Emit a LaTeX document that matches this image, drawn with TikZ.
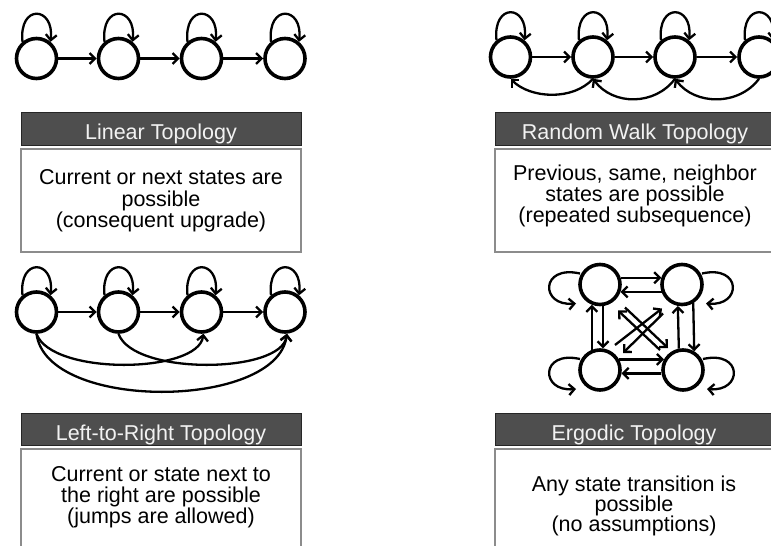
\documentclass[tikz,border=0pt]{standalone}
\usepackage{fontspec}
\setmainfont{Liberation Sans}
\usetikzlibrary{arrows.meta,calc}
\definecolor{barfill}{RGB}{78,78,78}
\definecolor{bartext}{RGB}{242,242,242}
\definecolor{bodyline}{RGB}{140,140,140}
\tikzset{
  st/.style={circle,draw=black,line width=3.6pt,minimum size=40pt,inner sep=0pt,fill=white},
  arr/.style={line width=2.3pt,-{Straight Barb[length=5.5pt,width=11pt,line width=2.3pt]}},
  bar/.style={draw=black!85,line width=0.8pt,fill=barfill},
  bodybox/.style={draw=bodyline,line width=1.8pt,fill=white},
  ttl/.style={anchor=base,inner sep=0pt,text=bartext,font=\fontsize{21.5}{24}\selectfont},
  txt/.style={anchor=base,inner sep=0pt,text=black,font=\fontsize{21.5}{24}\selectfont},
}
\begin{document}
\begin{tikzpicture}[x=1pt,y=1pt]
\useasboundingbox (0,0) rectangle (771,-546);
\clip (0,0) rectangle (771,-546);

% ---------- boxes ----------
\draw[bar] (21,-112) rectangle (301,-145);
\draw[bodybox] (21,-149) rectangle (301,-252);
\draw[bar] (495,-112) rectangle (775,-145);
\draw[bodybox] (495,-149) rectangle (775,-252);
\draw[bar] (21,-413) rectangle (301,-445);
\draw[bodybox] (21,-449) rectangle (301,-560);
\draw[bar] (495,-413) rectangle (775,-445);
\draw[bodybox] (495,-449) rectangle (775,-560);

\node[ttl] (t1) at (161,-139) {Linear Topology};
\node[txt] (t1a) at (161,-184.5) {Current or next states are};
\node[txt] (t1b) at (161,-206) {possible};
\node[txt] (t1c) at (161,-227.5) {(consequent upgrade)};

\node[ttl] (t2) at (635,-139) {Random Walk Topology};
\node[txt] (t2a) at (635,-180) {Previous, same, neighbor};
\node[txt] (t2b) at (635,-201) {states are possible};
\node[txt] (t2c) at (635,-222) {(repeated subsequence)};

\node[ttl] (t3) at (161,-440) {Left-to-Right Topology};
\node[txt] (t3a) at (161,-481) {Current or state next to};
\node[txt] (t3b) at (161,-502) {the right are possible};
\node[txt] (t3c) at (161,-523.5) {(jumps are allowed)};

\node[ttl] (t4) at (634,-440) {Ergodic Topology};
\node[txt] (t4a) at (634,-491) {Any state transition is};
\node[txt] (t4b) at (634,-511.5) {possible};
\node[txt] (t4c) at (634,-531) {(no assumptions)};

% ---------- Linear ----------
\foreach \n/\x in {1/36.5,2/118.5,3/201.5,4/285}{
  \node[st] (a\n) at (\x,-58.5) {};
}
\foreach \n in {1,2,3,4}{
  \draw[arr] (a\n.130) .. controls +(-4,38) and +(4,36) .. (a\n.50);
}
\draw[arr] (a1.east) -- (a2.west);
\draw[arr] (a2.east) -- (a3.west);
\draw[arr] (a3.east) -- (a4.west);

% ---------- Random walk ----------
\foreach \n/\x in {1/510.5,2/593,3/675,4/759}{
  \node[st] (b\n) at (\x,-57) {};
}
\foreach \n in {1,2,3,4}{
  \draw[arr] (b\n.130) .. controls +(-4,38) and +(4,36) .. (b\n.50);
}
\draw[arr] (b1.east) -- (b2.west);
\draw[arr] (b2.east) -- (b3.west);
\draw[arr] (b3.east) -- (b4.west);
\draw[arr] (b2.south) .. controls +(-20,-22) and +(20,-20) .. (b1.south);
\draw[arr] (b3.south) .. controls +(-20,-27) and +(20,-27) .. (b2.south);
\draw[arr] (b4.south) .. controls +(-20,-27) and +(20,-27) .. (b3.south);

% ---------- Left-to-right ----------
\foreach \n/\x in {1/36.5,2/118.5,3/201.5,4/285}{
  \node[st] (d\n) at (\x,-312) {};
}
\foreach \n in {1,2,3,4}{
  \draw[arr] (d\n.130) .. controls +(-4,38) and +(4,36) .. (d\n.50);
}
\draw[arr] (d1.east) -- (d2.west);
\draw[arr] (d2.east) -- (d3.west);
\draw[arr] (d3.east) -- (d4.west);
\draw[arr] (d1.south) .. controls +(15,-42) and +(-5,-40) .. (d3.-85);
\draw[arr] (d2.south) .. controls +(15,-42) and +(-5,-40) .. (d4.-85);
\draw[arr] (d1.south) .. controls +(10,-78) and +(-10,-76) .. (d4.-85);

% ---------- Ergodic ----------
\node[st] (e1) at (600,-284.5) {};
\node[st] (e2) at (682,-284.5) {};
\node[st] (e3) at (600,-370) {};
\node[st] (e4) at (683,-370) {};

% self loops
\draw[arr] ($(e1)+(-20,11)$) .. controls ($(e1)+(-60,20)$) and ($(e1)+(-60,-22)$) .. ($(e1)+(-24,-19)$);
\draw[arr] ($(e2)+(20,11)$) .. controls ($(e2)+(60,20)$) and ($(e2)+(60,-22)$) .. ($(e2)+(24,-19)$);
\draw[arr] ($(e3)+(-20,11)$) .. controls ($(e3)+(-60,20)$) and ($(e3)+(-60,-22)$) .. ($(e3)+(-24,-19)$);
\draw[arr] ($(e4)+(20,11)$) .. controls ($(e4)+(60,20)$) and ($(e4)+(60,-22)$) .. ($(e4)+(24,-19)$);

% horizontal
\draw[arr] (e1.18) -- (e2.162);
\draw[arr] (e2.-160) -- (e1.-20);
\draw[arr] (e3.29) -- (e4.151);
\draw[arr] (e4.-171) -- (e3.-9);
% vertical
\draw[arr] (e3.112) -- (e1.-112);
\draw[arr] (e1.-82) -- (e3.82);
\draw[arr] (e4.101) -- (e2.-101);
\draw[arr] (e2.-59) -- (e4.59);
% diagonals
\draw[arr] ($(e3)+(15,25)$) -- ($(e2)+(-20,-24)$);
\draw[arr] ($(e2)+(-19,-29)$) -- ($(e3)+(23,17)$);
\draw[arr] ($(e1)+(25,-23)$) -- ($(e4)+(-15,22)$);
\draw[arr] ($(e4)+(-23,20)$) -- ($(e1)+(18,-26)$);
\end{tikzpicture}
\end{document}
